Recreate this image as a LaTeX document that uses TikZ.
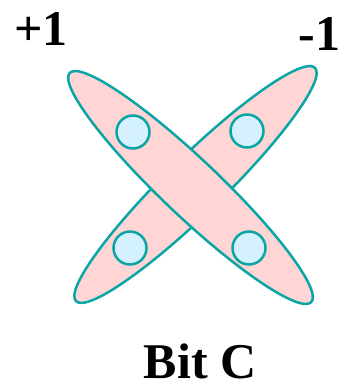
\documentclass[tikz,border=0pt]{standalone}
\usepackage{fontspec}
\setmainfont{Liberation Serif}
\definecolor{tealc}{RGB}{10,165,165}
\definecolor{pinkf}{RGB}{255,213,213}
\definecolor{bluef}{RGB}{213,240,255}
\begin{document}
\begin{tikzpicture}[x=1pt,y=-1pt,
  band/.style={draw=tealc,fill=pinkf,line width=2.5pt},
  dot/.style={circle,draw=tealc,fill=bluef,line width=2.5pt,minimum size=33pt,inner sep=0pt},
  lab/.style={font=\fontsize{50}{50}\selectfont\bfseries,inner sep=0pt}]
\useasboundingbox (0,0) rectangle (341,388);
\draw[band,rotate around={44.3:(195.5,184.5)}] (195.5,184.5) ellipse [x radius=167, y radius=28.5];
\draw[band,rotate around={-43.5:(190.5,187.5)}] (190.5,187.5) ellipse [x radius=166.5, y radius=28.5];
\node[dot] (c1) at (133,132) {};
\node[dot] (c2) at (247,131) {};
\node[dot] (c3) at (130,248) {};
\node[dot] (c4) at (249,248) {};
\node[lab,anchor=base west] (p) at (14,45) {+1};
\node[lab,anchor=base west] (m) at (298.5,50) {-1};
\node[lab,anchor=base] (b) at (200,378) {Bit C};
\end{tikzpicture}
\end{document}
